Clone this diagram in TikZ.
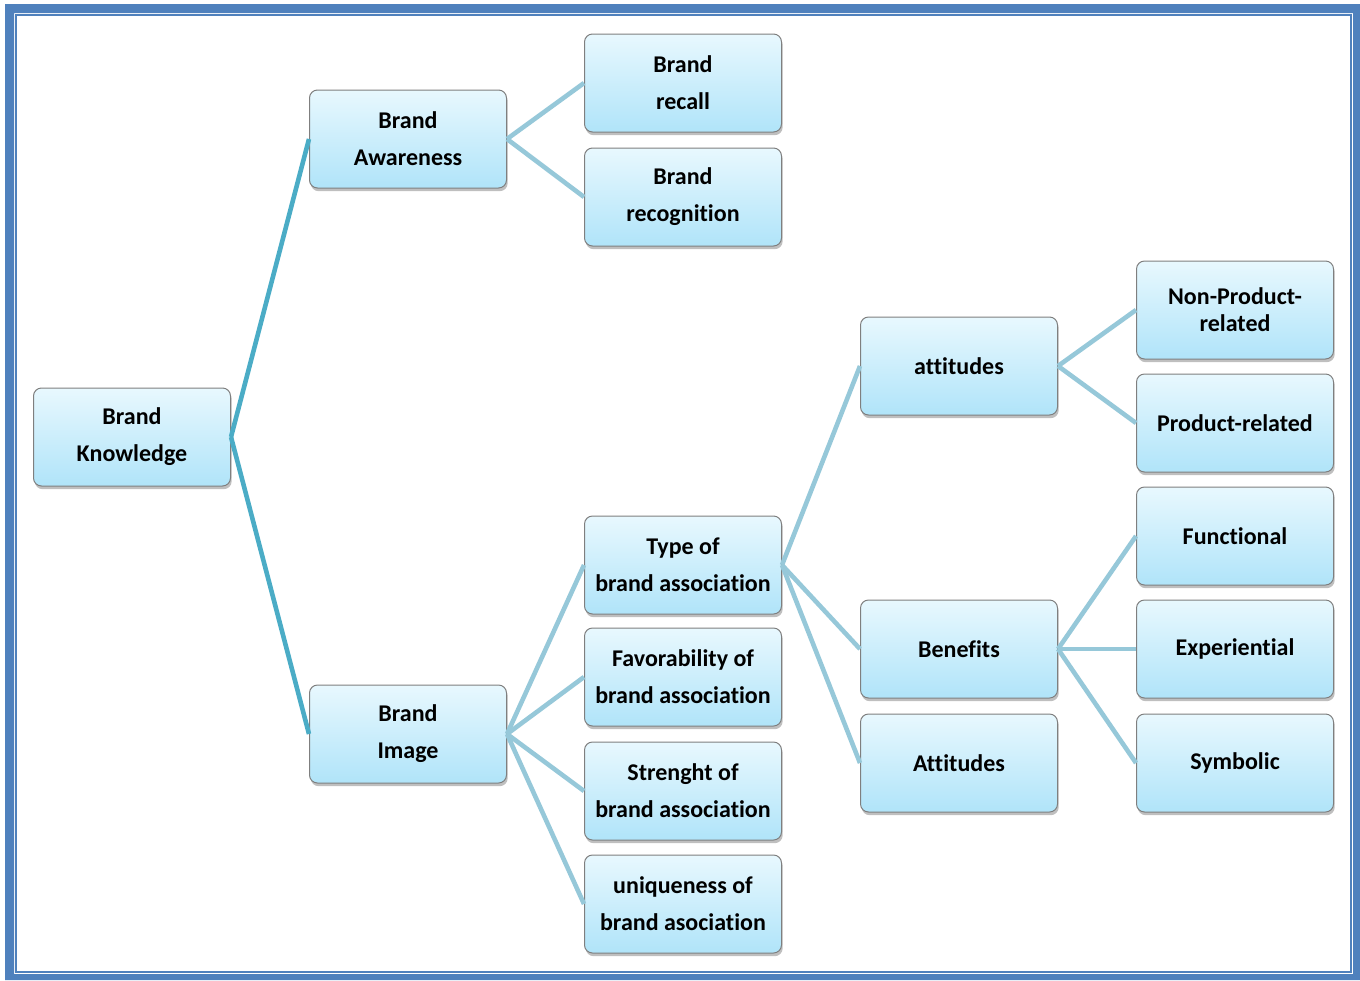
\documentclass[tikz,border=0pt]{standalone}
\usepackage{fontspec}
\setmainfont{Carlito}[Ligatures=NoCommon]
\usepackage{tikz}
\usetikzlibrary{shadows}
\definecolor{frameblue}{HTML}{4F81BD}
\definecolor{boxtop}{HTML}{E8F8FE}
\definecolor{boxbottom}{HTML}{B0E4F9}
\definecolor{boxline}{HTML}{7F7F7F}
\definecolor{darklink}{HTML}{4BACC6}
\definecolor{lightlink}{HTML}{96C8D9}

\begin{document}
\begin{tikzpicture}[x=0.5pt,y=-0.5pt,
  box/.style={draw=boxline,line width=0.5pt,rounded corners=4pt,
    top color=boxtop,bottom color=boxbottom,
    drop shadow={opacity=0.5,shadow xshift=0.6pt,shadow yshift=-1.6pt},
    minimum width=98.5pt,minimum height=49pt,inner sep=0pt,
    align=center,font=\fontsize{12}{18.5}\selectfont\bfseries},
  mainlink/.style={darklink,line width=2.3pt},
  sublink/.style={lightlink,line width=2.3pt}]
  %\draw[help lines] (0,0) grid (1360,980);
  \useasboundingbox (0,0) rectangle (1360,980);

  % frame
  \fill[frameblue,even odd rule] (5,4) rectangle (1360,980) (14,13) rectangle (1353,974);
  \draw[frameblue,line width=1pt] (16,15) rectangle (1351,972);

  \draw (132,437) node[box](BK)  {Brand\\Knowledge};

  \draw (408,139) node[box](BA)  {Brand\\Awareness};
  \draw (408,734) node[box](BI)  {Brand\\Image};

  \draw (683, 83) node[box](BRc)  {Brand\\recall};
  \draw (683,197) node[box](BRg)  {Brand\\recognition};

  \draw (683,565) node[box](TypeA)   {Type of\\brand association};
  \draw (683,677) node[box](FavA)    {Favorability of\\brand association};
  \draw (683,791) node[box](StrA)    {Strenght of\\brand association};
  \draw (683,904) node[box](UniA)    {uniqueness of\\brand asociation};

  \draw (959,366) node[box](att)     {attitudes};
  \draw (959,649) node[box](Ben)     {Benefits};
  \draw (959,763) node[box](Att)     {Attitudes};

  \draw (1235,310) node[box,font=\fontsize{12}{13.5}\selectfont\bfseries](NPR) {Non-Product-\\related};
  \draw (1235,423) node[box](PR)     {Product-related};
  \draw (1235,536) node[box](Fun)    {Functional};
  \draw (1235,649) node[box](Exp)    {Experiential};
  \draw (1235,763) node[box](Sym)    {Symbolic};

  \draw[mainlink] (BK.east) -- (BA.west);
  \draw[mainlink] (BK.east) -- (BI.west);

  \draw[sublink] (BA.east) -- (BRc.west);
  \draw[sublink] (BA.east) -- (BRg.west);

  \draw[sublink] (BI.east) -- (TypeA.west);
  \draw[sublink] (BI.east) -- (FavA.west);
  \draw[sublink] (BI.east) -- (StrA.west);
  \draw[sublink] (BI.east) -- (UniA.west);

  \draw[sublink] (TypeA.east) -- (att.west);
  \draw[sublink] (TypeA.east) -- (Ben.west);
  \draw[sublink] (TypeA.east) -- (Att.west);

  \draw[sublink] (att.east) -- (NPR.west);
  \draw[sublink] (att.east) -- (PR.west);

  \draw[sublink] (Ben.east) -- (Fun.west);
  \draw[sublink] (Ben.east) -- (Exp.west);
  \draw[sublink] (Ben.east) -- (Sym.west);

\end{tikzpicture}
\end{document}
